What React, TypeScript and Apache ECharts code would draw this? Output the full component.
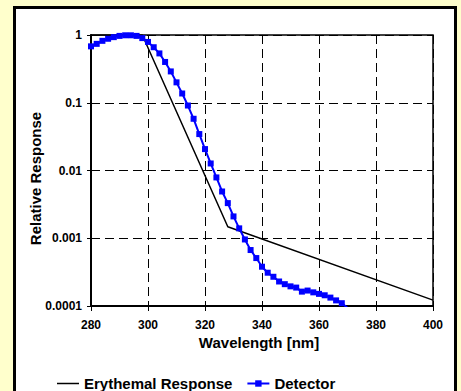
import React, { useEffect, useRef } from "react";
import * as echarts from "echarts";

const detectorWavelengths = [
  280, 282, 284, 286, 288, 290, 292, 294, 296, 298,
  300, 302, 304, 306, 308, 310, 312, 314, 316, 318,
  320, 322, 324, 326, 328, 330, 332, 334, 336, 338,
  340, 342, 344, 346, 348, 350, 352, 354, 356, 358,
  360, 362, 364, 366, 368, 370,
];
const detectorValues = [
  0.68, 0.74, 0.82, 0.88, 0.93, 0.97, 0.99, 0.99, 0.97, 0.9,
  0.79, 0.66, 0.535, 0.4, 0.29, 0.2, 0.137, 0.091, 0.058, 0.0345,
  0.0207, 0.0127, 0.0079, 0.0049, 0.0033, 0.0021, 0.0014, 0.00096, 0.00067, 0.00051,
  0.00038, 0.00031, 0.00027, 0.00023, 0.00021, 0.000195, 0.000187, 0.000163, 0.000169, 0.000159,
  0.000151, 0.000144, 0.000133, 0.000121, 0.00011, 0.000094,
];
const erythemalWavelengths = [280, 298, 328, 400];
const erythemalValues = [1, 1, 0.00148, 0.000122];
const xTicks = [280, 300, 320, 340, 360, 380, 400];

export default function App() {
  const ref = useRef<HTMLDivElement>(null);
  useEffect(() => {
    if (!ref.current) return;
    const chart = echarts.init(ref.current, undefined, { renderer: "svg" });
    const font = "'Liberation Sans', Arial, sans-serif";
    const fmtY = (v: number) => Number(v.toPrecision(1)).toString();
    chart.setOption({
      animation: false,
      backgroundColor: "transparent",
      textStyle: { fontFamily: font },
      grid: {
        left: 91,
        right: 28,
        top: 35,
        bottom: 85,
        show: true,
        borderColor: "#000",
        borderWidth: 1.5,
        backgroundColor: "transparent",
      },
      legend: {
        left: 57,
        top: 376,
        padding: 0,
        itemWidth: 22,
        itemHeight: 8,
        itemGap: 14,
        symbolKeepAspect: true,
        textStyle: { fontFamily: font, fontSize: 15, lineHeight: 15, fontWeight: "bold", color: "#000" },
        data: [
          { name: "Erythemal Response", icon: "path://M0,0 L22,0 L22,1.5 L0,1.5 Z" },
          { name: "Detector" },
        ],
      },
      xAxis: {
        type: "value",
        min: xTicks[0],
        max: xTicks[xTicks.length - 1],
        interval: 20,
        name: "Wavelength [nm]",
        nameLocation: "middle",
        nameGap: 29,
        nameMoveOverlap: false,
        nameTextStyle: { fontFamily: font, fontSize: 15, fontWeight: "bold", color: "#000", padding: [0, 6, 0, 0] },
        axisLine: { show: true, lineStyle: { color: "#000", width: 2 } },
        axisTick: { show: true, inside: false, length: 5, lineStyle: { color: "#000", width: 1 } },
        axisLabel: { margin: 13, fontFamily: font, fontSize: 12, fontWeight: "bold", color: "#000" },
        splitLine: { show: true, lineStyle: { color: "#000", width: 1, type: [9, 5] } },
      },
      yAxis: {
        type: "log",
        logBase: 10,
        min: 0.0001,
        max: 1,
        name: "Relative Response",
        nameLocation: "middle",
        nameGap: 48,
        nameMoveOverlap: false,
        nameTextStyle: { fontFamily: font, fontSize: 15, fontWeight: "bold", color: "#000", padding: [0, 16, 0, 0] },
        axisLine: { show: true, lineStyle: { color: "#000", width: 2 } },
        axisTick: { show: true, inside: false, length: 4, lineStyle: { color: "#000", width: 1 } },
        axisLabel: { margin: 9, fontFamily: font, fontSize: 12, fontWeight: "bold", color: "#000", formatter: fmtY },
        splitLine: { show: true, lineStyle: { color: "#000", width: 1, type: [9, 5] } },
        minorTick: { show: false },
      },
      series: [
        {
          name: "Erythemal Response",
          type: "line",
          data: erythemalWavelengths.map((w, i) => [w, erythemalValues[i]]),
          symbol: "none",
          color: "#000",
          lineStyle: { color: "#000", width: 1.5 },
          clip: true,
          z: 2,
        },
        {
          name: "Detector",
          type: "line",
          data: detectorWavelengths.map((w, i) => [w, detectorValues[i]]),
          symbol: "rect",
          symbolSize: 6,
          color: "#0000FF",
          itemStyle: { color: "#0000FF" },
          lineStyle: { color: "#0000FF", width: 2 },
          clip: true,
          z: 3,
        },
      ],
    });
    return () => chart.dispose();
  }, []);
  return (
    <div
      style={{
        position: "fixed",
        left: 0,
        top: 0,
        width: 461,
        height: 391,
        background: "#FFFFCC",
        overflow: "hidden",
      }}
    >
      <div
        style={{
          position: "absolute",
          left: 13,
          top: 6,
          width: 444,
          height: 420,
          border: "3px solid #000",
          boxSizing: "border-box",
          background: "#fff",
        }}
      />
      <div ref={ref} style={{ position: "absolute", left: 0, top: 0, width: 461, height: 391 }} />
    </div>
  );
}
